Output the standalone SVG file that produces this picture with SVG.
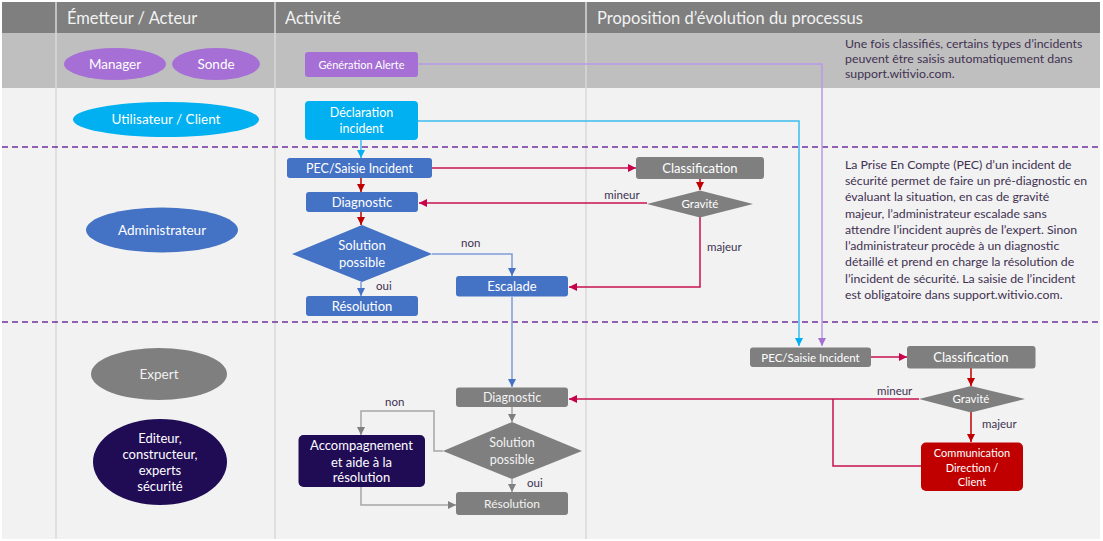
<svg xmlns="http://www.w3.org/2000/svg" width="1103" height="541" viewBox="0 0 1103 541">
<style>
.t{font-family:Lato,"Open Sans","Liberation Sans",sans-serif;text-anchor:middle;fill:#ffffff}
.g{fill:#f2f2f2}
.h{font-family:Lato,"Open Sans","Liberation Sans",sans-serif;font-size:16.5px;fill:#f2f2f2}
.p{font-family:Lato,"Open Sans","Liberation Sans",sans-serif;font-size:12.3px;fill:#3f3151}
.lb{font-family:Lato,"Open Sans","Liberation Sans",sans-serif;font-size:11.5px;fill:#3f3151}
.c{fill:none;stroke-width:1.5}
.mag{stroke:#c8104e}
.dr{stroke:#c00000}
.bl{stroke:#7d9bd6}
.gr{stroke:#a6a6a6}
.cy{stroke:#3cbdf0}
.pu{stroke:#b99be6}
.sep{stroke:#d9d9d9;stroke-width:1.5}
</style>
<defs>
<marker id="aMag" markerUnits="userSpaceOnUse" markerWidth="9" markerHeight="9" refX="8" refY="4" orient="auto"><path d="M0,0 L8,4 L0,8 z" fill="#c8004c"/></marker>
<marker id="aDr" markerUnits="userSpaceOnUse" markerWidth="9" markerHeight="9" refX="8" refY="4" orient="auto"><path d="M0,0 L8,4 L0,8 z" fill="#c00000"/></marker>
<marker id="aBl" markerUnits="userSpaceOnUse" markerWidth="9" markerHeight="9" refX="8" refY="4" orient="auto"><path d="M0,0 L8,4 L0,8 z" fill="#4472c4"/></marker>
<marker id="aGr" markerUnits="userSpaceOnUse" markerWidth="9" markerHeight="9" refX="8" refY="4" orient="auto"><path d="M0,0 L8,4 L0,8 z" fill="#7f7f7f"/></marker>
<marker id="aCy" markerUnits="userSpaceOnUse" markerWidth="9" markerHeight="9" refX="8" refY="4" orient="auto"><path d="M0,0 L8,4 L0,8 z" fill="#00b0f0"/></marker>
<marker id="aPu" markerUnits="userSpaceOnUse" markerWidth="9" markerHeight="9" refX="8" refY="4" orient="auto"><path d="M0,0 L8,4 L0,8 z" fill="#a66fd6"/></marker>
</defs>

<g id="background">
<rect x="0" y="0" width="1103" height="541" fill="#ffffff"/>
<rect x="2" y="2" width="1098" height="31" fill="#7f7f7f"/>
<rect x="2" y="33" width="1098" height="55" fill="#bfbfbf"/>
<rect x="2" y="88" width="1098" height="451" fill="#f2f2f2"/>
<line class="sep" x1="56" y1="2" x2="56" y2="539"/>
<line class="sep" x1="275" y1="2" x2="275" y2="539"/>
<line class="sep" x1="586" y1="2" x2="586" y2="539"/>
<line x1="2" y1="147" x2="1100" y2="147" stroke="#7030a0" stroke-width="1.5" stroke-dasharray="6 4"/>
<line x1="2" y1="322" x2="1100" y2="322" stroke="#7030a0" stroke-width="1.5" stroke-dasharray="6 4"/>
<text class="h" x="67" y="24">Émetteur / Acteur</text>
<text class="h" x="285" y="24">Activité</text>
<text class="h" x="597" y="24">Proposition d’évolution du processus</text>
</g>

<g id="notes">
<text class="p" x="845" y="48">Une fois classifiés, certains types d’incidents</text>
<text class="p" x="845" y="63">peuvent être saisis automatiquement dans</text>
<text class="p" x="845" y="78">support.witivio.com.</text>
<text class="p" x="845" y="169">La Prise En Compte (PEC) d’un incident de</text>
<text class="p" x="845" y="185">sécurité permet de faire un pré-diagnostic en</text>
<text class="p" x="845" y="201">évaluant la situation, en cas de gravité</text>
<text class="p" x="845" y="218">majeur, l’administrateur escalade sans</text>
<text class="p" x="845" y="234">attendre l’incident auprès de l’expert. Sinon</text>
<text class="p" x="845" y="250">l’administrateur procède à un diagnostic</text>
<text class="p" x="845" y="266">détaillé et prend en charge la résolution de</text>
<text class="p" x="845" y="283">l’incident de sécurité. La saisie de l’incident</text>
<text class="p" x="845" y="299">est obligatoire dans support.witivio.com.</text>
</g>

<g id="connectors">
<path class="c pu" d="M418,64 H822 V346" marker-end="url(#aPu)"/>
<path class="c cy" d="M418,121 H799 V346" marker-end="url(#aCy)"/>
<path class="c cy" d="M361,140 V158" marker-end="url(#aCy)"/>
<path class="c mag" d="M432,168 H636" marker-end="url(#aMag)"/>
<path class="c dr" d="M361,177 V192" marker-end="url(#aDr)"/>
<path class="c dr" d="M361,212 V225" marker-end="url(#aDr)"/>
<path class="c dr" d="M700,179 V190" marker-end="url(#aDr)"/>
<path class="c mag" d="M647,203 H419" marker-end="url(#aMag)"/>
<path class="c mag" d="M700,217 V287 H569" marker-end="url(#aMag)"/>
<path class="c bl" d="M432,254 H512 V276" marker-end="url(#aBl)"/>
<path class="c bl" d="M361,282 V296" marker-end="url(#aBl)"/>
<path class="c bl" d="M512,297 V387" marker-end="url(#aBl)"/>
<path class="c gr" d="M512,407 V422" marker-end="url(#aGr)"/>
<path class="c gr" d="M512,479 V492" marker-end="url(#aGr)"/>
<path class="c gr" d="M443,451 H434 V411 H361 V435" marker-end="url(#aGr)"/>
<path class="c gr" d="M361,487 V505 H456" marker-end="url(#aGr)"/>
<path class="c mag" d="M871,357 H907" marker-end="url(#aMag)"/>
<path class="c dr" d="M971,368 V386" marker-end="url(#aDr)"/>
<path class="c mag" d="M919,399 H569" marker-end="url(#aMag)"/>
<path class="c dr" d="M971,412 V442" marker-end="url(#aDr)"/>
<path class="c mag" d="M921,466 H833 V399"/>
<text class="lb" x="622" y="199" text-anchor="middle">mineur</text>
<text class="lb" x="707" y="251">majeur</text>
<text class="lb" x="461" y="247">non</text>
<text class="lb" x="376" y="290">oui</text>
<text class="lb" x="385" y="406">non</text>
<text class="lb" x="527" y="487">oui</text>
<text class="lb" x="877" y="395">mineur</text>
<text class="lb" x="982" y="428">majeur</text>
</g>

<g id="manager"><ellipse cx="115" cy="64" rx="51" ry="16" fill="#a66fd6"/><text class="t" x="115" y="69" font-size="13.5">Manager</text></g>
<g id="sonde"><ellipse cx="216" cy="64" rx="44" ry="16" fill="#a66fd6"/><text class="t" x="216" y="69" font-size="13.5">Sonde</text></g>
<g id="utilisateur"><ellipse cx="166" cy="119.5" rx="93" ry="17.5" fill="#00b0f0"/><text class="t" x="166" y="124" font-size="13.5">Utilisateur / Client</text></g>
<g id="administrateur"><ellipse cx="162" cy="230" rx="76" ry="22.5" fill="#4472c4"/><text class="t" x="162" y="235" font-size="13.5">Administrateur</text></g>
<g id="expert"><ellipse cx="159" cy="374" rx="68" ry="26" fill="#7f7f7f"/><text class="t g" x="159" y="379" font-size="13.5">Expert</text></g>
<g id="editeur"><ellipse cx="160" cy="462" rx="67" ry="43" fill="#200b55"/>
<text class="t" x="160" y="443" font-size="13">Editeur,</text>
<text class="t" x="160" y="459" font-size="13">constructeur,</text>
<text class="t" x="160" y="475" font-size="13">experts</text>
<text class="t" x="160" y="491" font-size="13">sécurité</text></g>

<g id="generation-alerte"><rect x="305" y="52" width="113" height="25" rx="3" fill="#a66fd6"/><text class="t" x="361.5" y="68.5" font-size="11">Génération Alerte</text></g>
<g id="declaration"><rect x="305" y="101" width="113" height="39" rx="4" fill="#00b0f0"/><text class="t" x="361.5" y="117" font-size="12.5">Déclaration</text><text class="t" x="361.5" y="133" font-size="12.5">incident</text></g>
<g id="pec-admin"><rect x="287" y="158" width="145" height="20" rx="3" fill="#4472c4"/><text class="t" x="359.5" y="173" font-size="12.5">PEC/Saisie Incident</text></g>
<g id="diagnostic-admin"><rect x="306" y="192" width="112" height="20" rx="3" fill="#4472c4"/><text class="t" x="362" y="207" font-size="13">Diagnostic</text></g>
<g id="solution-admin"><polygon points="292,254 362,225 432,254 362,282" fill="#4472c4"/><text class="t" x="362" y="250" font-size="13">Solution</text><text class="t" x="362" y="267" font-size="13">possible</text></g>
<g id="resolution-admin"><rect x="306" y="296" width="112" height="20" rx="3" fill="#4472c4"/><text class="t" x="362" y="311" font-size="13">Résolution</text></g>
<g id="escalade"><rect x="456" y="276" width="112" height="20.5" rx="3" fill="#4472c4"/><text class="t" x="512" y="291" font-size="13">Escalade</text></g>
<g id="classification-admin"><rect x="636" y="157" width="128" height="22" rx="3" fill="#7f7f7f"/><text class="t" x="700" y="173" font-size="13">Classification</text></g>
<g id="gravite-admin"><polygon points="647,204 700,190.5 753,204 700,217.5" fill="#7f7f7f"/><text class="t" x="700" y="208" font-size="11.5">Gravité</text></g>

<g id="diagnostic-expert"><rect x="456" y="387.5" width="112" height="19.5" rx="3" fill="#7f7f7f"/><text class="t g" x="512" y="402" font-size="12.5">Diagnostic</text></g>
<g id="solution-expert"><polygon points="443,451 512,422 582,451 512,479" fill="#7f7f7f"/><text class="t g" x="512" y="447" font-size="12.5">Solution</text><text class="t g" x="512" y="464" font-size="12.5">possible</text></g>
<g id="resolution-expert"><rect x="456" y="492" width="112" height="23" rx="3" fill="#7f7f7f"/><text class="t g" x="512" y="508" font-size="12">Résolution</text></g>
<g id="accompagnement"><rect x="298.5" y="435" width="126.5" height="52" rx="5" fill="#200b55"/>
<text class="t" x="361.5" y="450" font-size="13">Accompagnement</text>
<text class="t" x="361.5" y="467" font-size="13">et aide à la</text>
<text class="t" x="361.5" y="482" font-size="13">résolution</text></g>
<g id="pec-expert"><rect x="750" y="347.5" width="121" height="19.5" rx="3" fill="#7f7f7f"/><text class="t" x="810.5" y="361.5" font-size="11.5">PEC/Saisie Incident</text></g>
<g id="classification-expert"><rect x="907" y="346" width="128.5" height="22.5" rx="3" fill="#7f7f7f"/><text class="t" x="971" y="362" font-size="13">Classification</text></g>
<g id="gravite-expert"><polygon points="919,399 971,386 1025,399 971,412.5" fill="#7f7f7f"/><text class="t" x="971" y="403" font-size="11.5">Gravité</text></g>
<g id="communication"><rect x="921" y="442.5" width="102" height="48.5" rx="5" fill="#c00000"/>
<text class="t" x="972" y="457" font-size="11">Communication</text>
<text class="t" x="972" y="471.5" font-size="11">Direction /</text>
<text class="t" x="972" y="486" font-size="11">Client</text></g>
</svg>
